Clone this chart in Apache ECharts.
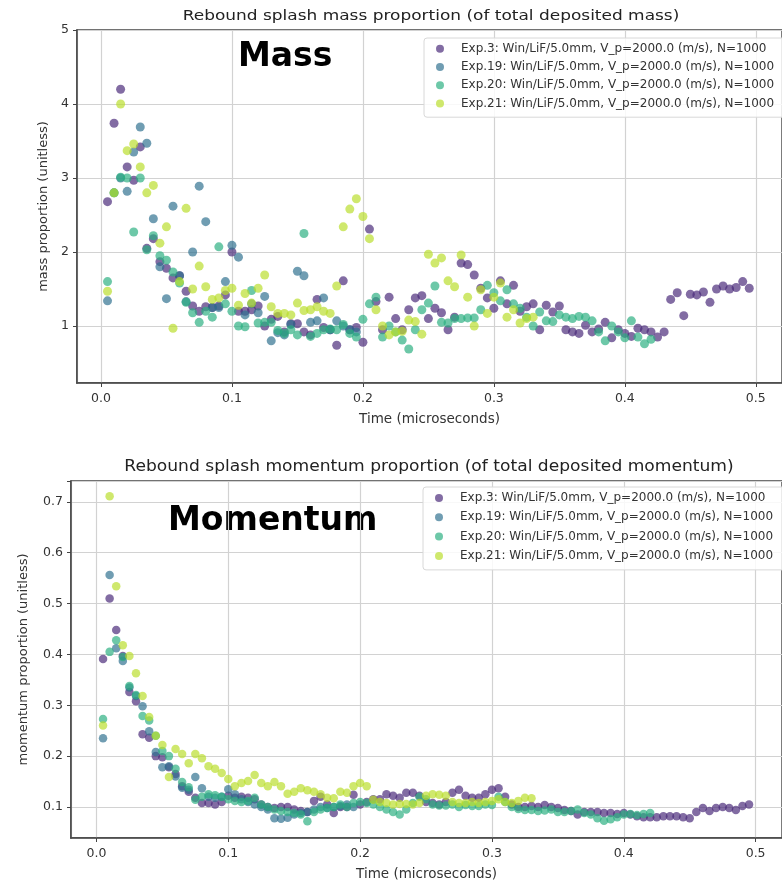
<!DOCTYPE html>
<html>
<head>
<meta charset="utf-8">
<script src="https://cdn.jsdelivr.net/npm/echarts@6/dist/echarts.min.js"></script>
<style>
  html, body { margin: 0; padding: 0; background: #fff; }
  #chart { width: 782px; height: 882px; }
</style>
</head>
<body>
<div id="chart"></div>
<script>
// time steps (microseconds)
var times = [0.005, 0.010, 0.015, 0.020, 0.025, 0.030, 0.035, 0.040, 0.045, 0.050,
  0.055, 0.060, 0.065, 0.070, 0.075, 0.080, 0.085, 0.090, 0.095, 0.100,
  0.105, 0.110, 0.115, 0.120, 0.125, 0.130, 0.135, 0.140, 0.145, 0.150,
  0.155, 0.160, 0.165, 0.170, 0.175, 0.180, 0.185, 0.190, 0.195, 0.200,
  0.205, 0.210, 0.215, 0.220, 0.225, 0.230, 0.235, 0.240, 0.245, 0.250,
  0.255, 0.260, 0.265, 0.270, 0.275, 0.280, 0.285, 0.290, 0.295, 0.300,
  0.305, 0.310, 0.315, 0.320, 0.325, 0.330, 0.335, 0.340, 0.345, 0.350,
  0.355, 0.360, 0.365, 0.370, 0.375, 0.380, 0.385, 0.390, 0.395, 0.400,
  0.405, 0.410, 0.415, 0.420, 0.425, 0.430, 0.435, 0.440, 0.445, 0.450,
  0.455, 0.460, 0.465, 0.470, 0.475, 0.480, 0.485, 0.490, 0.495]

var seriesNames = [
  'Exp.3: Win/LiF/5.0mm, V_p=2000.0 (m/s), N=1000',
  'Exp.19: Win/LiF/5.0mm, V_p=2000.0 (m/s), N=1000',
  'Exp.20: Win/LiF/5.0mm, V_p=2000.0 (m/s), N=1000',
  'Exp.21: Win/LiF/5.0mm, V_p=2000.0 (m/s), N=1000'
]
var colors = ['rgba(72,40,120,0.85)', 'rgba(46,111,142,0.85)', 'rgba(41,175,127,0.85)', 'rgba(184,222,41,0.85)']

// mass proportion
var massExp3 = [2.68, 3.74, 4.2, 3.15, 2.97, 3.42, 2.05, 2.18, 1.87, 1.78,
  1.65, 1.68, 1.47, 1.27, 1.2, 1.26, 1.25, 1.27, 1.42, 2.0,
  1.2, 1.2, 1.22, 1.27, 1.0, 1.09, 1.13, 0.92, 1.03, 1.03,
  0.92, 0.88, 1.36, 0.98, 0.95, 0.74, 1.61, 0.95, 0.98, 0.78,
  2.31, 1.33, 0.95, 1.39, 1.1, 0.95, 1.22, 1.38, 1.41, 1.1,
  1.24, 1.18, 0.95, 1.12, 1.85, 1.83, 1.69, 1.51, 1.38, 1.24,
  1.61, 1.3, 1.55, 1.2, 1.26, 1.3, 0.95, 1.28, 1.19, 1.27,
  0.95, 0.92, 0.9, 1.01, 0.92, 0.96, 1.05, 0.84, 0.95, 0.9,
  0.86, 0.97, 0.95, 0.92, 0.85, 0.92, 1.36, 1.45, 1.14, 1.43,
  1.42, 1.46, 1.32, 1.5, 1.54, 1.5, 1.52, 1.6, 1.51]
var massExp19 = [1.34, 2.8, 3.0, 2.82, 3.35, 3.69, 3.47, 2.45, 1.8, 1.37,
  2.62, 1.68, 1.33, 2.0, 2.89, 2.41, 1.25, 1.25, 1.6, 2.09,
  1.93, 1.15, 1.3, 1.18, 1.4, 0.8, 0.91, 0.88, 1.02, 1.74,
  1.68, 1.05, 1.07, 1.38, 0.95, 1.07, 1.0, 0.95, 0.92]
var massExp20 = [1.6, 2.8, 3.01, 3.0, 2.27, 3.0, 2.03, 2.22, 1.95, 1.89,
  1.73, 1.58, 1.32, 1.18, 1.05, 1.2, 1.12, 2.07, 1.3, 1.2,
  1.0, 0.99, 1.48, 1.04, 1.05, 1.05, 0.94, 0.9, 0.95, 0.88,
  2.25, 0.86, 0.9, 0.95, 0.96, 0.95, 1.02, 0.9, 0.85, 1.09,
  1.3, 1.39, 0.85, 1.0, 0.92, 0.81, 0.69, 0.95, 1.22, 1.31,
  1.54, 1.05, 1.04, 1.1, 1.1, 1.11, 1.11, 1.22, 1.55, 1.45,
  1.34, 1.49, 1.3, 1.24, 1.12, 1.0, 1.19, 1.07, 1.06, 1.15,
  1.12, 1.1, 1.13, 1.12, 1.07, 0.92, 0.8, 1.0, 0.92, 0.84,
  1.07, 0.85, 0.76, 0.82]
var massExp21 = [1.47, 2.8, 4.0, 3.37, 3.46, 3.15, 2.8, 2.9, 2.12, 2.34,
  0.97, 1.6, 2.59, 1.5, 1.81, 1.53, 1.36, 1.38, 1.48, 1.51,
  1.28, 1.44, 1.31, 1.51, 1.69, 1.26, 1.17, 1.17, 1.15, 1.31,
  1.21, 1.22, 1.26, 1.2, 1.17, 1.54, 2.34, 2.58, 2.72, 2.48,
  2.18, 1.22, 1.0, 0.88, 0.92, 0.93, 1.08, 1.06, 0.89, 1.97,
  1.85, 1.92, 1.61, 1.53, 1.96, 1.39, 1.0, 1.49, 1.17, 1.39,
  1.58, 1.12, 1.22, 1.04, 1.1, 1.12]

// momentum proportion
var momExp3 = [0.391, 0.51, 0.448, 0.397, 0.326, 0.308, 0.243, 0.236, 0.2, 0.198,
  0.178, 0.165, 0.141, 0.13, 0.118, 0.108, 0.108, 0.105, 0.11, 0.122,
  0.118, 0.12, 0.118, 0.115, 0.105, 0.1, 0.098, 0.1, 0.1, 0.095,
  0.092, 0.09, 0.112, 0.12, 0.105, 0.088, 0.1, 0.1, 0.124, 0.105,
  0.11, 0.115, 0.115, 0.125, 0.122, 0.118, 0.128, 0.128, 0.122, 0.11,
  0.108, 0.105, 0.11, 0.128, 0.134, 0.122, 0.118, 0.118, 0.125, 0.134,
  0.137, 0.12, 0.105, 0.1, 0.1, 0.102, 0.1, 0.104, 0.1, 0.098,
  0.094, 0.092, 0.085, 0.09, 0.09, 0.09, 0.088, 0.088, 0.086, 0.088,
  0.085, 0.082, 0.08, 0.08, 0.08, 0.082, 0.082, 0.082, 0.08, 0.078,
  0.09, 0.098, 0.092, 0.098, 0.1, 0.098, 0.094, 0.102, 0.105]
var momExp19 = [0.235, 0.556, 0.412, 0.387, 0.335, 0.318, 0.298, 0.249, 0.208, 0.178,
  0.18, 0.16, 0.138, 0.134, 0.159, 0.137, 0.12, 0.118, 0.12, 0.135,
  0.125, 0.115, 0.11, 0.105, 0.1, 0.095, 0.078, 0.077, 0.079, 0.085,
  0.088, 0.09, 0.095, 0.1, 0.098, 0.1, 0.102, 0.105, 0.1]
var momExp20 = [0.273, 0.405, 0.428, 0.395, 0.338, 0.32, 0.279, 0.27, 0.24, 0.21,
  0.2, 0.175, 0.149, 0.139, 0.114, 0.12, 0.125, 0.123, 0.12, 0.115,
  0.112, 0.11, 0.112, 0.118, 0.105, 0.1, 0.095, 0.092, 0.09, 0.088,
  0.085, 0.072, 0.09, 0.095, 0.098, 0.1, 0.105, 0.1, 0.108, 0.11,
  0.108, 0.105, 0.1, 0.095, 0.09, 0.085, 0.095, 0.108, 0.12, 0.115,
  0.105, 0.103, 0.103, 0.105, 0.1, 0.104, 0.102, 0.102, 0.105, 0.104,
  0.12, 0.11, 0.1, 0.096, 0.094, 0.094, 0.092, 0.093, 0.095, 0.09,
  0.09, 0.092, 0.095, 0.088, 0.085, 0.078, 0.073, 0.076, 0.08, 0.085,
  0.086, 0.084, 0.086, 0.088]
var momExp21 = [0.26, 0.711, 0.534, 0.418, 0.397, 0.363, 0.318, 0.277, 0.24, 0.222,
  0.159, 0.214, 0.204, 0.186, 0.204, 0.196, 0.18, 0.175, 0.167, 0.155,
  0.141, 0.147, 0.151, 0.163, 0.147, 0.141, 0.149, 0.141, 0.126, 0.13,
  0.137, 0.133, 0.13, 0.125, 0.118, 0.117, 0.13, 0.128, 0.141, 0.147,
  0.141, 0.114, 0.11, 0.108, 0.105, 0.106, 0.106, 0.105, 0.108, 0.122,
  0.125, 0.124, 0.122, 0.11, 0.108, 0.108, 0.11, 0.108, 0.11, 0.112,
  0.115, 0.11, 0.108, 0.112, 0.118, 0.117]

var massSets = [massExp3, massExp19, massExp20, massExp21]
var momSets = [momExp3, momExp19, momExp20, momExp21]

var FONT = 'DejaVu Sans'

function pairs(vals) {
  return vals.map(function(v, i) { return [times[i], v] })
}

function tickFmt(step, digits) {
  return function(v) {
    var r = v / step
    return Math.abs(r - Math.round(r)) < 1e-6 ? v.toFixed(digits) : ''
  }
}

function makeX(gridIndex, min, max) {
  return {
    type: 'value', gridIndex: gridIndex, min: min, max: max,
    name: 'Time (microseconds)', nameLocation: 'middle', nameGap: 29,
    nameTextStyle: { fontFamily: FONT, fontSize: 13.5, color: '#333' },
    axisLine: { show: true, onZero: false, lineStyle: { color: '#444', width: 1.5 } },
    axisTick: { show: true, length: 4, lineStyle: { color: '#444' } },
    axisLabel: { fontFamily: FONT, fontSize: 12.5, color: '#333', margin: 9,
      showMinLabel: false, showMaxLabel: false, formatter: tickFmt(0.1, 1) },
    splitLine: { show: true, lineStyle: { color: '#d2d2d2', width: 1.2 } }
  }
}

function makeY(gridIndex, min, max, name, gap, step, digits) {
  return {
    type: 'value', gridIndex: gridIndex, min: min, max: max,
    name: name, nameLocation: 'middle', nameGap: gap, nameRotate: 90,
    nameTextStyle: { fontFamily: FONT, fontSize: 13, color: '#333' },
    axisLine: { show: true, onZero: false, lineStyle: { color: '#444', width: 1.5 } },
    axisTick: { show: true, length: 4, lineStyle: { color: '#444' } },
    axisLabel: { fontFamily: FONT, fontSize: 12.5, color: '#333', margin: 8,
      showMinLabel: false, showMaxLabel: true, formatter: tickFmt(step, digits) },
    splitLine: { show: true, lineStyle: { color: '#d2d2d2', width: 1.2 } }
  }
}

function makeLegend(top, left, lineH, gap) {
  return {
    orient: 'vertical', left: left, top: top,
    data: seriesNames, icon: 'circle',
    itemWidth: 8, itemHeight: 8, itemGap: gap,
    padding: [4, 30, 7, 12],
    backgroundColor: 'rgba(255,255,255,0.85)',
    borderColor: '#d8d8d8', borderWidth: 1, borderRadius: 3,
    textStyle: { fontFamily: FONT, fontSize: 12, color: '#333', lineHeight: lineH, padding: [0, 0, 0, 12] }
  }
}

var series = []
massSets.forEach(function(vals, i) {
  series.push({
    name: seriesNames[i], type: 'scatter', xAxisIndex: 0, yAxisIndex: 0,
    symbolSize: 9, itemStyle: { color: colors[i] }, data: pairs(vals)
  })
})
momSets.forEach(function(vals, i) {
  series.push({
    name: seriesNames[i], type: 'scatter', xAxisIndex: 1, yAxisIndex: 1,
    symbolSize: 8.5, itemStyle: { color: colors[i] }, data: pairs(vals)
  })
})

var chart = echarts.init(document.getElementById('chart'), null, { renderer: 'canvas' })
chart.setOption({
  animation: false,
  backgroundColor: '#fff',
  color: colors,
  grid: [
    { left: 77, top: 30, width: 712, height: 353, show: true, borderColor: '#444', borderWidth: 1.5, backgroundColor: 'transparent' },
    { left: 71, top: 481, width: 719, height: 358, show: true, borderColor: '#444', borderWidth: 1.5, backgroundColor: 'transparent' }
  ],
  xAxis: [makeX(0, -0.0183, 0.52), makeX(1, -0.0193, 0.52)],
  yAxis: [
    makeY(0, 0.23, 5, 'mass proportion (unitless)', 24, 1, 0),
    makeY(1, 0.039, 0.741, 'momentum proportion (unitless)', 41, 0.1, 1)
  ],
  legend: [makeLegend(38, 424, 13.3, 5), makeLegend(487, 423, 14, 5.3)],
  graphic: [
    { type: 'text', x: 431, y: 16, scaleX: 1.17, style: { text: 'Rebound splash mass proportion (of total deposited mass)',
      font: '14.5px "DejaVu Sans"', fill: '#222', textAlign: 'center', textVerticalAlign: 'middle' } },
    { type: 'text', x: 429, y: 467, scaleX: 1.14, style: { text: 'Rebound splash momentum proportion (of total deposited momentum)',
      font: '15px "DejaVu Sans"', fill: '#222', textAlign: 'center', textVerticalAlign: 'middle' } },
    { type: 'text', style: { x: 238, y: 57, text: 'Mass',
      font: 'bold 33px "DejaVu Sans"', fill: '#000', textAlign: 'left', textVerticalAlign: 'middle' } },
    { type: 'text', style: { x: 168, y: 521, text: 'Momentum',
      font: 'bold 33px "DejaVu Sans"', fill: '#000', textAlign: 'left', textVerticalAlign: 'middle' } }
  ],
  series: series
})
</script>
</body>
</html>
